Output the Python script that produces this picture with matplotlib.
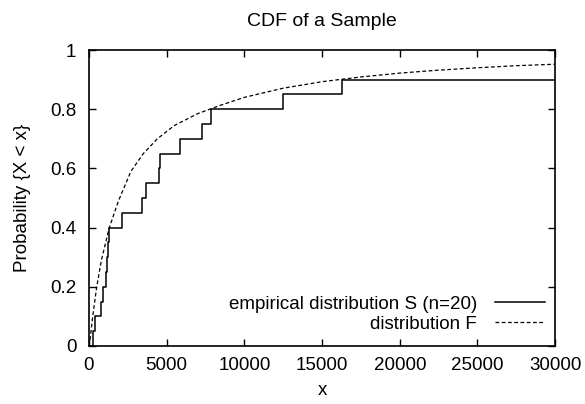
import numpy as np
import matplotlib
matplotlib.use("Agg")
import matplotlib.pyplot as plt
from matplotlib.ticker import FormatStrFormatter

plt.rcParams['font.family'] = ['Liberation Sans', 'DejaVu Sans']
plt.rcParams['font.size'] = 13.5

# empirical sample: x where the step rises by 1/20 (two values lie beyond 30000)
sample_x = [237, 365, 750, 880, 1120, 1150, 1200, 1310, 2150, 3390,
            3650, 4480, 4560, 5860, 7290, 7830, 12500, 16260]
n = 20

# distribution F
dist_x = [0, 25, 50, 100, 250, 500, 800, 1300, 1900, 2700, 3500, 4400, 5500,
          7000, 8500, 10000, 12500, 15000, 17500, 20000, 22500, 25000, 27500, 30000]
dist_F = [0, 0.004, 0.012, 0.034, 0.102, 0.199, 0.289, 0.398, 0.49, 0.59, 0.65,
          0.70, 0.745, 0.785, 0.814, 0.840, 0.871, 0.893, 0.909, 0.922, 0.932,
          0.940, 0.947, 0.952]

step_x = [0] + sample_x + [30000]
step_y = [0] + [(i + 1) / n for i in range(len(sample_x))]
step_y = step_y + [step_y[-1]]

fig = plt.figure(figsize=(5.85, 4.04), dpi=100)
ax = fig.add_axes([0.152, 0.1436, 0.797, 0.7326])

ax.step(step_x, step_y, where='post', color='black', lw=1.1,
        label='empirical distribution S (n=20)')
ax.plot(dist_x, dist_F, color='black', lw=0.9, dashes=(3, 2),
        label='distribution F')

ax.set_xlim(0, 30000)
ax.set_ylim(0, 1)
ax.set_xticks(np.arange(0, 30001, 5000))
ax.set_yticks([0, 0.2, 0.4, 0.6, 0.8, 1])
ax.yaxis.set_major_formatter(FormatStrFormatter('%g'))
ax.tick_params(direction='in', top=True, right=True, length=5, width=1)
ax.tick_params(axis='x', pad=8)
ax.tick_params(axis='y', pad=9)
for s in ax.spines.values():
    s.set_linewidth(1.2)

ax.set_title('CDF of a Sample', fontsize=14, pad=17)
ax.set_xlabel('x', labelpad=6)
ax.set_ylabel('Probability {X < x}', labelpad=14)

ax.legend(loc='lower right', frameon=False, markerfirst=False,
          handlelength=2.7, handletextpad=0.95, labelspacing=0.15,
          borderaxespad=0.0, fontsize=13.5, bbox_to_anchor=(0.995, 0.02))

fig.savefig('out.png', dpi=100)
